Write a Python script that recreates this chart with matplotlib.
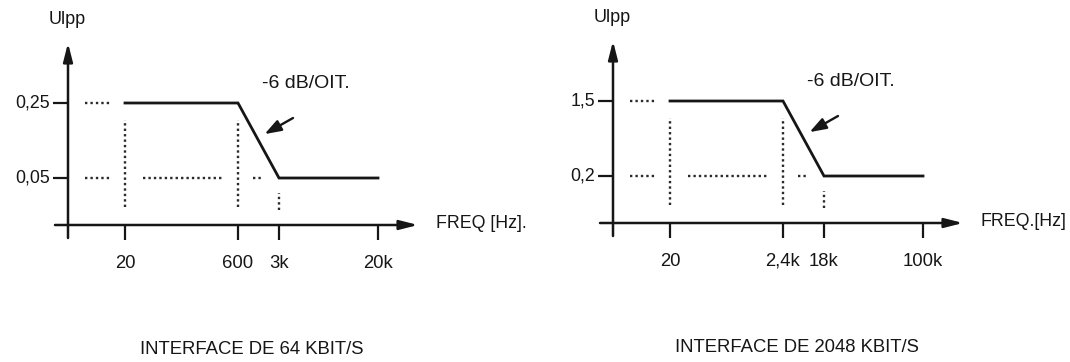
import matplotlib
matplotlib.use("Agg")
import matplotlib.pyplot as plt

plt.rcParams['font.family'] = ['Liberation Sans', 'DejaVu Sans']

# --- data ---
left_freqs = ['20', '600', '3k', '20k']
left_levels = [0.25, 0.05]
left_level_labels = ['0,25', '0,05']
left_response = [0.25, 0.25, 0.05, 0.05]      # Ulpp at each frequency mark
left_xlabel = 'FREQ [Hz].'
left_title = 'INTERFACE DE 64 KBIT/S'

right_freqs = ['20', '2,4k', '18k', '100k']
right_levels = [1.5, 0.2]
right_level_labels = ['1,5', '0,2']
right_response = [1.5, 1.5, 0.2, 0.2]
right_xlabel = 'FREQ.[Hz]'
right_title = 'INTERFACE DE 2048 KBIT/S'

slope_text = '-6 dB/OIT.'
ylabel = 'Ulpp'

# --- schematic layout (pixels from the axis origin) ---
TICK_X = [57, 170, 211, 310]
LEVEL_Y = [122, 47]          # high, low
X_TIP, Y_TIP = 350, 182
INK = '#161616'

W, H = 1070, 362
fig = plt.figure(figsize=(W / 100, H / 100), dpi=100)


def panel(ox, oy, freqs, levels, level_labels, response, xlabel, title):
    # ox, oy: origin in figure pixels (oy from bottom)
    x0, x1, y0, y1 = -60, 450, -130, 220
    ax = fig.add_axes([(ox + x0) / W, (oy + y0) / H, (x1 - x0) / W, (y1 - y0) / H])
    ax.set_xlim(x0, x1)
    ax.set_ylim(y0, y1)
    ax.axis('off')

    ymap = dict(zip(levels, LEVEL_Y))
    ys = [ymap[v] for v in response]

    # axes with arrows
    arr = dict(arrowstyle='-|>,head_length=1.1,head_width=0.28', color=INK,
               lw=1.8, shrinkA=0, shrinkB=0, mutation_scale=10)
    ax.annotate('', xy=(0, Y_TIP), xytext=(0, -13), arrowprops=arr)
    ax.annotate('', xy=(X_TIP, 0), xytext=(-13, 0), arrowprops=arr)

    # ticks and labels
    for x, lab in zip(TICK_X, freqs):
        ax.plot([x, x], [-15, 0], color=INK, lw=1.6, solid_capstyle='butt')
        ax.text(x, -38, lab, ha='center', va='center', fontsize=13.3, color=INK)
    for y, lab in zip(LEVEL_Y, level_labels):
        ax.plot([-15, 0], [y, y], color=INK, lw=1.6, solid_capstyle='butt')
        ax.text(-18, y, lab, ha='right', va='center', fontsize=12.8, color=INK)

    ax.text(-1, 205, ylabel, ha='center', va='center', fontsize=13, color=INK)
    ax.text(368, 2, xlabel, ha='left', va='center', fontsize=12.8, color=INK)
    ax.text(184, -125, title, ha='center', va='center', fontsize=13.3, color=INK)

    # dotted guides
    dot = dict(color='#2a2a2a', lw=1.7, linestyle=(0, (1, 1.3)))
    hi, lo = LEVEL_Y
    for y in (hi, lo):
        ax.plot([17, TICK_X[0] - 14], [y, y], **dot)
    ax.plot([TICK_X[0] + 18, TICK_X[1] - 15], [lo, lo], **dot)
    ax.plot([TICK_X[1] + 15, TICK_X[1] + 24], [lo, lo], **dot)
    for x in TICK_X[:2]:
        ax.plot([x, x], [lo - 29, hi - 17], **dot)
    ax.plot([TICK_X[2], TICK_X[2]], [15, lo - 15], **dot)

    # response curve
    ax.plot(TICK_X, ys, color=INK, lw=2.0, solid_joinstyle='miter')

    # slope annotation
    t = 0.47
    px = TICK_X[1] + t * (TICK_X[2] - TICK_X[1])
    py = ys[1] + t * (ys[2] - ys[1])
    ax.annotate('', xy=(px, py), xytext=(225, 107),
                arrowprops=dict(arrowstyle='-|>,head_length=1.0,head_width=0.35',
                                color=INK, lw=1.7, shrinkA=0, shrinkB=6,
                                mutation_scale=10))
    ax.text(194, 142, slope_text, ha='left', va='center', fontsize=14, color=INK)


panel(68, H - 225, left_freqs, left_levels, left_level_labels, left_response,
      left_xlabel, left_title)
panel(613, H - 223, right_freqs, right_levels, right_level_labels, right_response,
      right_xlabel, right_title)

fig.savefig('out.png', dpi=100, facecolor='white')
